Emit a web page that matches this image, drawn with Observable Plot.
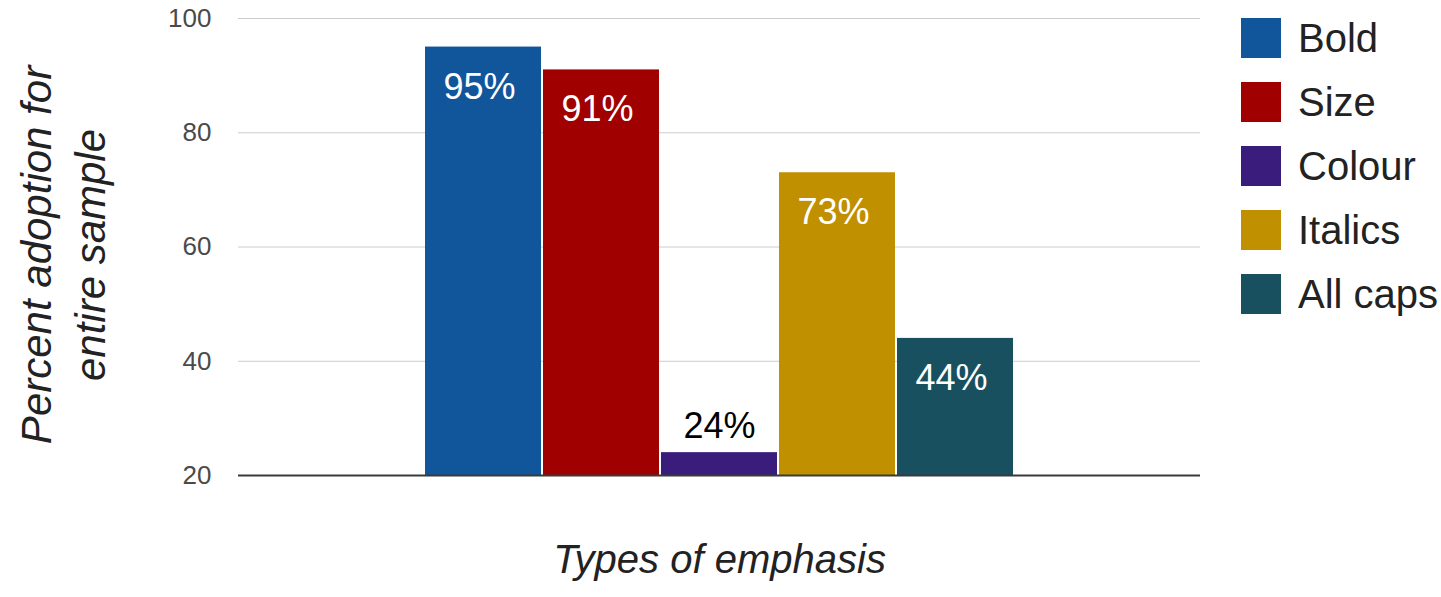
<!DOCTYPE html>
<html><head><meta charset="utf-8">
<script src="https://cdn.jsdelivr.net/npm/d3@7"></script>
<script src="https://cdn.jsdelivr.net/npm/@observablehq/plot@0.6"></script>
<style>
body{margin:0;background:#fff;font-family:"Liberation Sans",Arial,sans-serif;}
#wrap{position:relative;width:1441px;height:597px;overflow:hidden;}
#legend{position:absolute;left:1241px;top:18px;}
.item{display:flex;align-items:center;height:40px;margin-bottom:24px;}
.sw{width:40px;height:40px;margin-right:17px;flex:none;}
.lab{font-size:40px;color:#222;line-height:40px;white-space:nowrap;}
</style></head><body><div id="wrap"></div>
<script>
const categories = ["Bold", "Size", "Colour", "Italics", "All caps"];
const values = [95, 91, 24, 73, 44];
const colors = ["#11559b", "#a00000", "#3a1c7d", "#c09000", "#185060"];
const yTicks = [20, 40, 60, 80, 100];
const xTitle = "Types of emphasis";
const yTitle = "Percent adoption for\nentire sample";

const data = categories.map((c, i) => ({category: c, value: values[i], label: values[i] + "%"}));
const font = "'Liberation Sans', Arial, sans-serif";

const plot = Plot.plot({
  width: 1441, height: 597,
  marginLeft: 238, marginRight: 241, marginTop: 18, marginBottom: 122,
  style: {fontFamily: font, background: "white"},
  x: {domain: categories, paddingInner: 0.017, paddingOuter: 1.57, axis: null},
  y: {domain: [20, 100], ticks: yTicks, axis: null},
  color: {domain: categories, range: colors},
  marks: [
    Plot.gridY(yTicks.filter(t => t > 20), {stroke: "#cccccc", strokeOpacity: 1, strokeWidth: 1}),
    Plot.axisY(yTicks, {tickSize: 0, tickPadding: 27, fontSize: 26, fill: "#4a4a4a", label: null}),
    Plot.barY(data, {x: "category", y1: 20, y2: "value", fill: "category"}),
    Plot.ruleY([20], {stroke: "#3a3a3a", strokeWidth: 2}),
    Plot.text(data.filter(d => d.value >= 40), {x: "category", y: "value", text: "label", dx: -4, dy: 40, fill: "white", fontSize: 36}),
    Plot.text(data.filter(d => d.value < 40), {x: "category", y: "value", text: "label", dy: -26, fill: "black", fontSize: 36}),
    Plot.text([xTitle], {text: d => d, frameAnchor: "bottom", dy: 97, fontSize: 40, fontStyle: "italic", fill: "#222"}),
    Plot.text([yTitle], {text: d => d, frameAnchor: "left", textAnchor: "middle", dx: -178, dy: 8, rotate: -90, fontSize: 42, fontStyle: "italic", lineHeight: 1.3, fill: "#222"})
  ]
});

const wrap = document.getElementById("wrap");
wrap.appendChild(plot);
const legend = document.createElement("div");
legend.id = "legend";
categories.forEach((c, i) => {
  const item = document.createElement("div");
  item.className = "item";
  const sw = document.createElement("div");
  sw.className = "sw";
  sw.style.background = colors[i];
  const lab = document.createElement("span");
  lab.className = "lab";
  lab.textContent = c;
  item.appendChild(sw); item.appendChild(lab);
  legend.appendChild(item);
});
wrap.appendChild(legend);
</script>
</body></html>
